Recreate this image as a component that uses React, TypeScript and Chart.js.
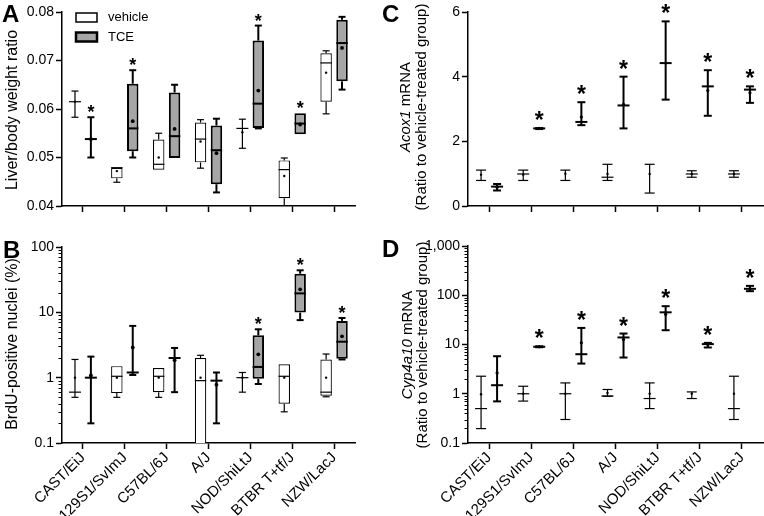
import React, { useEffect, useRef } from 'react';
import { Chart, registerables } from 'chart.js';

Chart.register(...registerables);

const FONT = "'Liberation Sans', Arial, Helvetica, sans-serif";
const GRAY = '#a6a6a6';

const strains = ['CAST/EiJ', '129S1/SvImJ', 'C57BL/6J', 'A/J', 'NOD/ShiLtJ', 'BTBR T+tf/J', 'NZW/LacJ'];
const groups = ['vehicle', 'TCE'];

// Panel A – liver/body weight ratio: [min, q1, median, q3, max, mean]
const liverVehicle = [
  [0.0583, 0.0615, 0.0615, 0.0615, 0.0637, 0.0615],
  [0.0449, 0.0457, 0.0479, 0.0479, 0.0479, 0.0472],
  [0.0475, 0.0475, 0.0486, 0.0537, 0.0550, 0.0500],
  [0.0478, 0.0490, 0.0538, 0.0572, 0.0578, 0.0533],
  [0.0519, 0.0560, 0.0560, 0.0560, 0.0579, 0.0552],
  [0.0380, 0.0416, 0.0475, 0.0494, 0.0499, 0.0462],
  [0.0590, 0.0615, 0.0695, 0.0715, 0.0720, 0.0675],
];
const liverTCE = [
  [0.0500, 0.0538, 0.0538, 0.0538, 0.0583, 0.0538],
  [0.0500, 0.0513, 0.0560, 0.0652, 0.0680, 0.0575],
  [0.0499, 0.0499, 0.0544, 0.0634, 0.0650, 0.0559],
  [0.0428, 0.0445, 0.0515, 0.0566, 0.0580, 0.0509],
  [0.0560, 0.0561, 0.0611, 0.0741, 0.0772, 0.0638],
  [0.0548, 0.0548, 0.0570, 0.0591, 0.0591, 0.0568],
  [0.0640, 0.0657, 0.0736, 0.0784, 0.0790, 0.0726],
];
const liverStars = [true, true, false, false, true, true, false];
const liverTicks = [0.04, 0.05, 0.06, 0.07, 0.08];

// Panel B – BrdU-positive nuclei (%): [min, q1, median, q3, max, mean]
const brduVehicle = [
  [0.5, 0.6, 0.6, 0.6, 1.9, 1.0],
  [0.5, 0.58, 1.05, 1.5, 1.5, 1.0],
  [0.5, 0.6, 1.05, 1.4, 1.4, 1.0],
  [0.05, 0.05, 0.9, 2.0, 2.2, 1.0],
  [0.6, 1.0, 1.0, 1.0, 1.2, 1.0],
  [0.3, 0.4, 1.05, 1.6, 1.6, 1.0],
  [0.51, 0.53, 0.6, 1.9, 2.3, 1.0],
];
const brduTCE = [
  [0.2, 1.0, 1.0, 1.0, 2.1, 1.08],
  [1.1, 1.2, 1.2, 1.2, 6.2, 2.9],
  [0.6, 2.0, 2.0, 2.0, 2.85, 1.85],
  [0.2, 0.9, 0.9, 0.9, 1.2, 0.78],
  [0.8, 0.96, 1.46, 4.45, 5.5, 2.28],
  [7.6, 9.9, 19.5, 39, 44, 22.5],
  [1.9, 1.95, 3.55, 7.4, 8.2, 4.3],
];
const brduStars = [false, false, false, false, true, true, true];
const brduTicks = [0.1, 1, 10, 100];

// Panel C – Acox1 mRNA: [low, middle, high, point]
const acoxVehicle = [
  [0.79, null, 1.11, 0.97],
  [0.79, 0.99, 1.11, 0.97],
  [0.79, null, 1.11, 1.0],
  [0.79, 0.89, 1.29, 0.99],
  [0.40, null, 1.29, 0.99],
  [0.89, 0.99, 1.09, 0.99],
  [0.89, 0.99, 1.09, 0.99],
];
const acoxTCE = [
  [0.48, 0.60, 0.68, 0.58],
  [2.38, 2.40, 2.41, 2.40],
  [2.50, 2.60, 3.21, 2.75],
  [2.40, 3.11, 4.00, 3.14],
  [3.29, 4.42, 5.71, 4.42],
  [2.79, 3.70, 4.20, 3.57],
  [3.19, 3.60, 3.70, 3.50],
];
const acoxStars = [false, true, true, true, true, true, true];
const acoxTicks = [0, 2, 4, 6];

// Panel D – Cyp4a10 mRNA: [low, middle, high, point]
const cypVehicle = [
  [0.196, 0.50, 2.27, 0.98],
  [0.71, 1.0, 1.42, 1.0],
  [0.30, 1.0, 1.66, 1.0],
  [0.89, 0.9, 1.22, 1.04],
  [0.50, 0.80, 1.66, 1.0],
  [0.80, null, 1.09, 1.0],
  [0.30, 0.50, 2.27, 1.0],
];
const cypTCE = [
  [0.70, 1.49, 5.78, 2.65],
  [8.8, 9.0, 9.2, 9.0],
  [4.1, 6.35, 21.7, 10.8],
  [5.44, 13.9, 16.7, 12.6],
  [19.5, 45, 60, 41],
  [8.7, 10.2, 10.8, 10.0],
  [121, 135, 155, 135],
];
const cypStars = [false, true, true, true, true, true, true];
const cypTicks = [0.1, 1, 10, 100, 1000];

const titleA = [{ text: 'Liver/body weight ratio', italic: false }];
const titleB = [{ text: 'BrdU-positive nuclei (%)', italic: false }];
const titleC1 = [{ text: 'Acox1', italic: true }, { text: ' mRNA', italic: false }];
const titleD1 = [{ text: 'Cyp4a10', italic: true }, { text: ' mRNA', italic: false }];
const titleRatio = [{ text: '(Ratio to vehicle-treated group)', italic: false }];

function hLine(ctx: any, x: number, y: number, w: number) {
  ctx.beginPath();
  ctx.moveTo(x - w / 2, y);
  ctx.lineTo(x + w / 2, y);
  ctx.stroke();
}
function vLine(ctx: any, x: number, y1: number, y2: number) {
  ctx.beginPath();
  ctx.moveTo(x, y1);
  ctx.lineTo(x, y2);
  ctx.stroke();
}

function drawRotated(ctx: any, cx: number, cy: number, parts: any[], size: number) {
  ctx.save();
  ctx.translate(cx, cy);
  ctx.rotate(-Math.PI / 2);
  ctx.textBaseline = 'middle';
  ctx.textAlign = 'left';
  ctx.fillStyle = '#000';
  const fonts = parts.map((p) => `${p.italic ? 'italic ' : ''}${size}px ${FONT}`);
  let total = 0;
  const widths = parts.map((p, i) => {
    ctx.font = fonts[i];
    const w = ctx.measureText(p.text).width;
    total += w;
    return w;
  });
  let x = -total / 2;
  parts.forEach((p, i) => {
    ctx.font = fonts[i];
    ctx.fillText(p.text, x, 0);
    x += widths[i];
  });
  ctx.restore();
}

function drawLetter(ctx: any, letter: string, x: number, baseline: number) {
  ctx.save();
  ctx.font = `bold 24px ${FONT}`;
  ctx.fillStyle = '#000';
  ctx.textAlign = 'left';
  ctx.textBaseline = 'alphabetic';
  ctx.fillText(letter, x, baseline);
  ctx.restore();
}

function drawMinorLogTicks(chart: any) {
  const y = chart.scales.y;
  const ctx = chart.ctx;
  const xAxis = chart.chartArea.left;
  ctx.save();
  ctx.strokeStyle = '#000';
  ctx.lineWidth = 1;
  for (let d = y.min; d < y.max; d *= 10) {
    for (let k = 2; k <= 9; k++) {
      const py = Math.round(y.getPixelForValue(k * d)) + 0.5;
      ctx.beginPath();
      ctx.moveTo(xAxis - 3.5, py);
      ctx.lineTo(xAxis, py);
      ctx.stroke();
    }
  }
  ctx.restore();
}

function drawStars(chart: any, rows: any[], stars: boolean[], valueIndex: number, size: number, lift: number) {
  const ctx = chart.ctx;
  const y = chart.scales.y;
  const meta = chart.getDatasetMeta(1);
  ctx.save();
  ctx.font = `bold ${size}px ${FONT}`;
  ctx.fillStyle = '#000';
  ctx.textAlign = 'center';
  ctx.textBaseline = 'alphabetic';
  rows.forEach((r, j) => {
    if (!stars[j]) return;
    const el: any = meta.data[j];
    ctx.fillText('*', el.x, y.getPixelForValue(r[valueIndex]) + lift);
  });
  ctx.restore();
}

function boxOverlay(series: any[][], stars: boolean[]) {
  return {
    id: 'boxOverlay',
    afterDatasetsDraw(chart: any) {
      const { ctx, chartArea: a } = chart;
      const y = chart.scales.y;
      const py = (v: number) => y.getPixelForValue(v);
      ctx.save();
      ctx.beginPath();
      ctx.rect(a.left, a.top - 20, a.right - a.left, a.bottom - a.top + 20);
      ctx.clip();
      series.forEach((rows, di) => {
        const meta = chart.getDatasetMeta(di);
        ctx.strokeStyle = '#000';
        ctx.fillStyle = '#000';
        ctx.lineWidth = di === 0 ? 1.2 : 2;
        rows.forEach((r: number[], j: number) => {
          const el: any = meta.data[j];
          const x = el.x;
          const bw = el.width;
          const [mn, q1, md, q3, mx, mean] = r;
          const cap = 7;
          if (mx > q3) {
            vLine(ctx, x, py(q3), py(mx));
            hLine(ctx, x, py(mx), cap);
          }
          if (mn < q1) {
            vLine(ctx, x, py(q1), py(mn));
            hLine(ctx, x, py(mn), cap);
          }
          hLine(ctx, x, py(md), q3 > q1 ? bw : 12);
          ctx.beginPath();
          ctx.arc(x, py(mean), di === 0 ? 1.2 : 1.9, 0, Math.PI * 2);
          ctx.fill();
        });
      });
      ctx.restore();
      drawStars(chart, series[1], stars, 4, 18, 1);
    },
  };
}

function errOverlay(series: any[][], stars: boolean[]) {
  return {
    id: 'errOverlay',
    afterDatasetsDraw(chart: any) {
      const ctx = chart.ctx;
      const y = chart.scales.y;
      const py = (v: number) => y.getPixelForValue(v);
      ctx.save();
      series.forEach((rows, di) => {
        const meta = chart.getDatasetMeta(di);
        const thick = di === 1;
        ctx.strokeStyle = '#000';
        ctx.fillStyle = '#000';
        ctx.lineWidth = thick ? 2 : 1.2;
        const capW = thick ? 8 : 10;
        rows.forEach((r: any[], j: number) => {
          const el: any = meta.data[j];
          const x = el.x;
          const [lo, mid, hi, dot] = r;
          hLine(ctx, x, py(lo), capW);
          hLine(ctx, x, py(hi), capW);
          if (mid != null) hLine(ctx, x, py(mid), 12);
          ctx.beginPath();
          ctx.arc(x, py(dot), thick ? 1.6 : 1.2, 0, Math.PI * 2);
          ctx.fill();
        });
      });
      ctx.restore();
      drawStars(chart, series[1], stars, 2, 23, 0);
    },
  };
}

function decorPlugin(fn: (chart: any) => void) {
  return { id: 'decor', afterDraw: fn };
}

function makeOptions(o: any) {
  const tickFont = { family: FONT, size: 14, lineHeight: 1 };
  const xFont = { family: FONT, size: 15, lineHeight: 1 };
  return {
    responsive: false,
    animation: false,
    devicePixelRatio: 1,
    events: [],
    layout: { padding: { top: o.padTop, right: o.padRight, left: 0, bottom: 0 } },
    plugins: { legend: { display: false }, tooltip: { enabled: false }, title: { display: false } },
    scales: {
      x: {
        type: 'category',
        offset: true,
        grid: { display: true, drawOnChartArea: false, drawTicks: true, tickLength: 6, tickWidth: 1.5, tickColor: '#000', color: '#000', offset: false },
        border: { display: true, color: '#000', width: 1.5 },
        ticks: { display: o.showX, color: '#000', font: xFont, maxRotation: 45, minRotation: 45, padding: 1, autoSkip: false },
        afterFit: (s: any) => { s.height = o.xHeight; },
      },
      y: {
        type: o.yType,
        min: o.yMin,
        max: o.yMax,
        afterBuildTicks: (s: any) => { s.ticks = o.yTicks.map((v: number) => ({ value: v })); },
        grid: { display: true, drawOnChartArea: false, drawTicks: true, tickLength: 6, tickWidth: 1.5, tickColor: '#000', color: '#000' },
        border: { display: true, color: '#000', width: 1.5 },
        ticks: { color: '#000', font: tickFont, padding: 2, callback: (v: any) => o.fmt(Number(v)) },
        afterFit: (s: any) => { s.width = o.yWidth; },
      },
    },
  };
}

function boxDatasets(vehicle: number[][], tce: number[][]) {
  return [
    { label: groups[0], data: vehicle.map((r) => [r[1], r[3]]), backgroundColor: '#ffffff', borderColor: '#000', borderWidth: 1.2, borderSkipped: false, categoryPercentage: 0.76, barPercentage: 0.72 },
    { label: groups[1], data: tce.map((r) => [r[1], r[3]]), backgroundColor: GRAY, borderColor: '#000', borderWidth: 2, borderSkipped: false, categoryPercentage: 0.76, barPercentage: 0.72 },
  ];
}

function errDatasets(vehicle: any[][], tce: any[][]) {
  return [
    { label: groups[0], data: vehicle.map((r) => [r[0], r[2]]), backgroundColor: '#000', borderWidth: 0, categoryPercentage: 0.76, barPercentage: 1, maxBarThickness: 1.2 },
    { label: groups[1], data: tce.map((r) => [r[0], r[2]]), backgroundColor: '#000', borderWidth: 0, categoryPercentage: 0.76, barPercentage: 1, maxBarThickness: 2 },
  ];
}

function drawLegend(chart: any) {
  const { ctx, chartArea: a } = chart;
  ctx.save();
  chart.data.datasets.forEach((ds: any, i: number) => {
    const x = a.left + 14;
    const yTop = a.top + 1 + i * 19.5;
    const w = 21;
    const h = 9;
    ctx.fillStyle = ds.backgroundColor;
    ctx.fillRect(x, yTop, w, h);
    ctx.lineWidth = i === 0 ? 1.5 : 2.5;
    ctx.strokeStyle = '#000';
    ctx.strokeRect(x, yTop, w, h);
    ctx.fillStyle = '#000';
    ctx.font = `13px ${FONT}`;
    ctx.textBaseline = 'middle';
    ctx.textAlign = 'left';
    ctx.fillText(ds.label, a.left + 46, yTop + h / 2);
  });
  ctx.restore();
}

const fmtFixed2 = (v: number) => v.toFixed(2);
const fmtPlain = (v: number) => v.toLocaleString('en-US', { maximumFractionDigits: 2 });

export default function App() {
  const refA = useRef<HTMLCanvasElement>(null);
  const refB = useRef<HTMLCanvasElement>(null);
  const refC = useRef<HTMLCanvasElement>(null);
  const refD = useRef<HTMLCanvasElement>(null);

  useEffect(() => {
    document.body.style.margin = '0';
    const charts: Chart[] = [];

    charts.push(new Chart(refA.current as HTMLCanvasElement, {
      type: 'bar',
      data: { labels: strains, datasets: boxDatasets(liverVehicle, liverTCE) as any },
      options: makeOptions({ yType: 'linear', yMin: 0.04, yMax: 0.08, yTicks: liverTicks, fmt: fmtFixed2, showX: false, padTop: 12, padRight: 25, yWidth: 62, xHeight: 8 }) as any,
      plugins: [boxOverlay([liverVehicle, liverTCE], liverStars), decorPlugin((chart) => {
        drawLetter(chart.ctx, 'A', 2, 22);
        drawRotated(chart.ctx, 13, 110, titleA, 16);
        drawLegend(chart);
      })],
    }));

    charts.push(new Chart(refB.current as HTMLCanvasElement, {
      type: 'bar',
      data: { labels: strains, datasets: boxDatasets(brduVehicle, brduTCE) as any },
      options: makeOptions({ yType: 'logarithmic', yMin: 0.1, yMax: 100, yTicks: brduTicks, fmt: fmtPlain, showX: true, padTop: 32, padRight: 25, yWidth: 62, xHeight: 73 }) as any,
      plugins: [boxOverlay([brduVehicle, brduTCE], brduStars), decorPlugin((chart) => {
        drawLetter(chart.ctx, 'B', 3, 43);
        drawRotated(chart.ctx, 13, 129, titleB, 16);
        drawMinorLogTicks(chart);
      })],
    }));

    charts.push(new Chart(refC.current as HTMLCanvasElement, {
      type: 'bar',
      data: { labels: strains, datasets: errDatasets(acoxVehicle, acoxTCE) as any },
      options: makeOptions({ yType: 'linear', yMin: 0, yMax: 6, yTicks: acoxTicks, fmt: fmtPlain, showX: false, padTop: 12, padRight: 1, yWidth: 88, xHeight: 8 }) as any,
      plugins: [errOverlay([acoxVehicle, acoxTCE], acoxStars), decorPlugin((chart) => {
        drawLetter(chart.ctx, 'C', 2, 22);
        drawRotated(chart.ctx, 26, 107, titleC1, 15);
        drawRotated(chart.ctx, 42, 107, titleRatio, 15);
      })],
    }));

    charts.push(new Chart(refD.current as HTMLCanvasElement, {
      type: 'bar',
      data: { labels: strains, datasets: errDatasets(cypVehicle, cypTCE) as any },
      options: makeOptions({ yType: 'logarithmic', yMin: 0.1, yMax: 1000, yTicks: cypTicks, fmt: fmtPlain, showX: true, padTop: 31, padRight: 1, yWidth: 88, xHeight: 73 }) as any,
      plugins: [errOverlay([cypVehicle, cypTCE], cypStars), decorPlugin((chart) => {
        drawLetter(chart.ctx, 'D', 2, 42);
        drawRotated(chart.ctx, 28, 130, titleD1, 15);
        drawRotated(chart.ctx, 43, 130, titleRatio, 15);
        drawMinorLogTicks(chart);
      })],
    }));

    return () => { charts.forEach((c) => c.destroy()); };
  }, []);

  const cs = (left: number, top: number): React.CSSProperties => ({ position: 'absolute', left, top, display: 'block' });

  return (
    <div style={{ position: 'absolute', left: 0, top: 0, width: 764, height: 516, background: '#fff', overflow: 'hidden' }}>
      <canvas ref={refA} width={380} height={215} style={cs(0, 0)} />
      <canvas ref={refB} width={380} height={301} style={cs(0, 215)} />
      <canvas ref={refC} width={384} height={215} style={cs(380, 0)} />
      <canvas ref={refD} width={384} height={301} style={cs(380, 215)} />
    </div>
  );
}
